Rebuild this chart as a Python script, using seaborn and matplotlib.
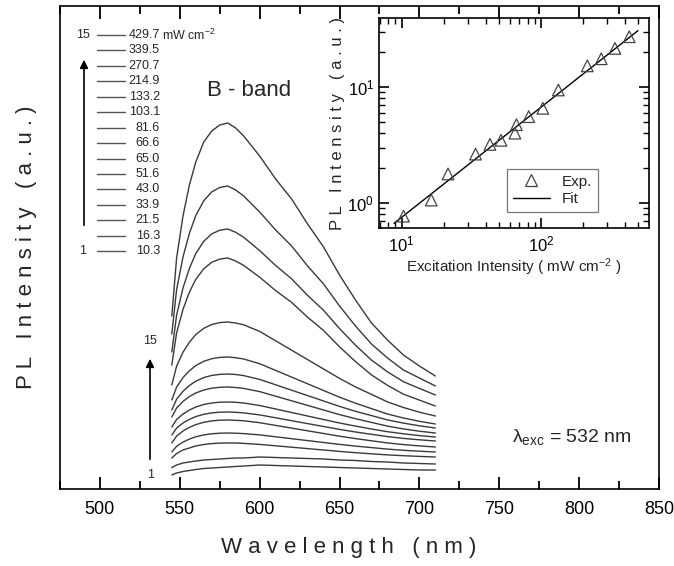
import matplotlib
matplotlib.use("Agg")
import matplotlib.pyplot as plt
import numpy as np
import pandas as pd
import seaborn as sns
from matplotlib.lines import Line2D
from matplotlib.ticker import MultipleLocator, LogLocator, NullFormatter

# ---------------- data ----------------
wavelength = [545, 548, 552, 556, 560, 565, 570, 575, 580, 585, 590, 600,
              610, 620, 630, 640, 650, 660, 670, 680, 690, 700, 710]

I_01 = [14, 16, 17.5, 18.5, 19.5, 20.5, 21, 21.5, 22, 22.5, 23, 24, 23.5, 23, 22.5, 22, 21.5, 21, 20.5, 20, 19.5, 19, 19]
I_02 = [21.5, 24, 26, 27, 28, 29, 29.5, 30, 30.5, 31, 31, 32, 31.5, 31, 30.5, 30, 29, 28.5, 27.5, 27, 26, 25.5, 25]
I_03 = [31, 35.5, 39, 41, 43, 44.5, 45.4, 45.9, 46, 46, 45.6, 44.6, 43.2, 41.8, 40.4, 39, 37.6, 36.3, 35.2, 34.1, 33.3, 32.6, 32]
I_04 = [37, 42.7, 46.9, 49.9, 52.2, 54.1, 55.2, 55.8, 56, 55.8, 55.4, 54.1, 52.2, 50.3, 48.4, 46.5, 44.6, 42.9, 41.4, 39.9, 38.7, 37.8, 37]
I_05 = [46, 52.9, 58, 61.6, 64.4, 66.7, 68.1, 68.8, 69, 68.7, 68.2, 66.3, 63.6, 60.9, 58.2, 55.5, 52.8, 50.4, 48.2, 46.1, 44.4, 43.1, 42]
I_06 = [54, 60.9, 66, 69.6, 72.4, 74.7, 76.1, 76.8, 77, 76.7, 76.1, 74.1, 71.2, 68.3, 65.4, 62.5, 59.6, 57, 54.7, 52.4, 50.6, 49.2, 48]
I_07 = [62, 69.5, 75, 79, 82, 84.5, 86, 86.8, 87, 86.7, 86, 83.5, 80, 76.5, 73, 69.5, 66, 62.9, 60, 57.3, 55.2, 53.4, 52]
I_08 = [72, 81, 87.6, 92.4, 96, 99, 100.8, 101.7, 102, 101.5, 100.6, 97.4, 92.8, 88.2, 83.6, 79, 74.4, 70.3, 66.6, 62.9, 60.1, 57.8, 56]
I_09 = [79, 89.8, 97.7, 103.5, 107.8, 111.4, 113.6, 114.6, 115, 114.5, 113.4, 109.6, 104.2, 98.8, 93.4, 88, 82.6, 77.7, 73.4, 69.1, 65.9, 63.2, 61]
I_10 = [89, 101.9, 111.4, 118.2, 123.4, 127.7, 130.3, 131.6, 132, 131.3, 130, 125.3, 118.6, 111.9, 105.2, 98.5, 91.8, 85.8, 80.4, 75, 71, 67.7, 65]
I_11 = [104, 122.9, 136.8, 146.8, 154.4, 160.7, 164.5, 166.4, 167, 166, 164.2, 157.6, 148.2, 138.8, 129.4, 120, 110.6, 102.1, 94.6, 87.1, 81.5, 76.8, 73]
I_12 = [124, 156.1, 179.6, 196.8, 209.6, 220.3, 226.7, 229.9, 231, 228, 223.6, 211.8, 198.4, 186.6, 171.8, 158.5, 142.2, 127.4, 114.1, 103.7, 94.8, 88.9, 83]
I_13 = [137, 173.9, 201, 220.6, 235.4, 247.7, 255.1, 258.8, 260, 256.7, 251.7, 238.4, 223.5, 210.2, 193.6, 178.7, 160.4, 143.8, 128.9, 117.2, 107.3, 100.6, 94]
I_14 = [155, 199.4, 232, 255.6, 273.4, 288.2, 297.1, 301.5, 303, 299, 293, 277, 259, 243, 223, 205, 183, 163, 145, 131, 119, 111, 103]
I_15 = [173, 231, 273, 304, 327, 347, 358, 364, 366, 361, 353, 333, 310, 290, 265, 242, 214, 189, 166, 149, 134, 123, 113]

spectra = [I_01, I_02, I_03, I_04, I_05, I_06, I_07, I_08,
           I_09, I_10, I_11, I_12, I_13, I_14, I_15]

# excitation intensities (mW cm^-2), spectrum 15 -> 1 (legend order)
legend_labels = ["429.7", "339.5", "270.7", "214.9", "133.2", "103.1", "81.6",
                 "66.6", "65.0", "51.6", "43.0", "33.9", "21.5", "16.3", "10.3"]

# inset
exc_intensity = [10.3, 16.3, 21.5, 33.9, 43.0, 51.6, 65.0, 66.6, 81.6,
                 103.1, 133.2, 214.9, 270.7, 339.5, 429.7]
pl_integrated = [0.77, 1.06, 1.78, 2.64, 3.2, 3.47, 4.0, 4.73, 5.55,
                 6.55, 9.42, 15.2, 17.5, 21.5, 27.1]
fit_x = [8.8, 497]
fit_y = [0.668, 30.6]

# ---------------- style ----------------
sns.set_theme(style="white")
plt.rcParams["font.family"] = ["Liberation Sans", "DejaVu Sans"]
plt.rcParams["mathtext.fontset"] = "custom"
plt.rcParams["mathtext.rm"] = "Liberation Sans"
plt.rcParams["mathtext.it"] = "Liberation Sans:italic"
plt.rcParams["mathtext.sf"] = "Liberation Sans"
plt.rcParams["axes.edgecolor"] = "black"
plt.rcParams["axes.linewidth"] = 1.0

W, H = 674, 566
fig = plt.figure(figsize=(W / 100, H / 100), dpi=100)
fig.patch.set_facecolor("white")


def fx(px):
    return px / W


def fy(py):
    return 1 - py / H


line_col = "#3a3a3a"

# ---------------- main axes ----------------
ax = fig.add_axes([fx(60), fy(489), (659 - 60) / W, (489 - 6) / H])

rows = []
for k, spec in enumerate(spectra):
    for wl, val in zip(wavelength, spec):
        rows.append({"wl": wl, "I": val, "curve": k + 1})
df = pd.DataFrame(rows)
sns.lineplot(data=df, x="wl", y="I", units="curve", estimator=None,
             color=line_col, lw=1.0, ax=ax, legend=False)

ax.set_xlim(475, 850)
ax.set_ylim(0, 483)
ax.set_yticks([])
ax.xaxis.set_major_locator(MultipleLocator(50))
ax.xaxis.set_minor_locator(MultipleLocator(25))
ax.tick_params(axis="x", which="major", direction="in", top=True, bottom=True,
               length=9, width=1.3, color="black", labelsize=13, pad=9,
               labelcolor="black")
ax.tick_params(axis="x", which="minor", direction="in", top=True, bottom=True,
               length=6, width=1.3, color="black")
ax.set_xlabel("")
ax.set_ylabel("")
for s in ax.spines.values():
    s.set_visible(True)
    s.set_color("black")
    s.set_linewidth(1.2)

fig.text(fx(349), fy(548), "W a v e l e n g t h   ( n m )", ha="center",
         va="center", fontsize=16)
fig.text(fx(27), fy(247), "P L   I n t e n s i t y   ( a . u . )", ha="center",
         va="center", fontsize=16, rotation=90)

# legend-like list of intensities
row_y0, row_dy = 35, 15.45
for i, lab in enumerate(legend_labels):
    yy = row_y0 + i * row_dy
    fig.add_artist(Line2D([fx(97), fx(125)], [fy(yy), fy(yy)], color="#555555",
                          lw=1.0, transform=fig.transFigure))
    fig.text(fx(160), fy(yy), lab, ha="right", va="center", fontsize=9)
fig.text(fx(162), fy(row_y0), r"mW cm$^{-2}$", ha="left", va="center", fontsize=9)
fig.text(fx(83), fy(row_y0), "15", ha="center", va="center", fontsize=9)
fig.text(fx(83), fy(row_y0 + 14 * row_dy), "1", ha="center", va="center", fontsize=9)
ax.annotate("", xy=(fx(84), fy(57)), xytext=(fx(84), fy(228)),
            xycoords="figure fraction", textcoords="figure fraction",
            arrowprops=dict(arrowstyle="-|>", color="black", lw=1.2,
                            mutation_scale=12))

# second arrow near the spectra
fig.text(fx(150), fy(341), "15", ha="center", va="center", fontsize=9)
fig.text(fx(151), fy(475), "1", ha="center", va="center", fontsize=9)
ax.annotate("", xy=(fx(150), fy(356)), xytext=(fx(150), fy(462)),
            xycoords="figure fraction", textcoords="figure fraction",
            arrowprops=dict(arrowstyle="-|>", color="black", lw=1.2,
                            mutation_scale=12))

fig.text(fx(207), fy(91), "B - band", ha="left", va="center", fontsize=16)
fig.text(fx(512), fy(437), "\u03bb$_{\\rm exc}$ = 532 nm", ha="left",
         va="center", fontsize=14)

# ---------------- inset ----------------
ins = fig.add_axes([fx(379), fy(228), (649 - 379) / W, (228 - 18) / H])
ins.set_facecolor("white")
sns.lineplot(x=fit_x, y=fit_y, color="black", lw=1.0, ax=ins, legend=False)
sns.scatterplot(x=exc_intensity, y=pl_integrated, marker="^", s=70,
                facecolor="none", edgecolor="#444444", linewidth=0.9,
                ax=ins, legend=False, zorder=3)
ins.set_xscale("log")
ins.set_yscale("log")
ins.set_xlim(6.87, 596)
ins.set_ylim(0.609, 39.3)
for a in (ins.xaxis, ins.yaxis):
    a.set_major_locator(LogLocator(base=10, numticks=10))
    a.set_minor_locator(LogLocator(base=10, subs=np.arange(2, 10), numticks=20))
    a.set_minor_formatter(NullFormatter())
ins.tick_params(which="major", direction="in", top=True, bottom=True, left=True,
                right=True, length=7, width=1.2, color="black", labelsize=12,
                labelcolor="black")
ins.tick_params(which="minor", direction="in", top=True, bottom=True, left=True,
                right=True, length=4, width=1.0, color="black")
ins.tick_params(axis="x", pad=5)
for s in ins.spines.values():
    s.set_visible(True)
    s.set_color("black")
    s.set_linewidth(1.2)
ins.set_xlabel("Excitation Intensity ( mW cm$^{-2}$ )", fontsize=11, labelpad=1)
ins.set_ylabel("P L   I n t e n s i t y   ( a . u . )", fontsize=12, labelpad=2)

h_exp = Line2D([], [], marker="^", ls="none", mfc="none", mec="#444444", ms=8,
               mew=0.9)
h_fit = Line2D([], [], color="black", lw=1.0)
leg = ins.legend([h_exp, h_fit], ["Exp.", "Fit"], loc="lower right",
                 bbox_to_anchor=(0.84, 0.04), fontsize=11, frameon=True,
                 fancybox=False, edgecolor="#555555", handlelength=2.4,
                 borderpad=0.4, labelspacing=0.2)
leg.get_frame().set_linewidth(0.9)

fig.savefig("out.png", dpi=100, facecolor="white")
